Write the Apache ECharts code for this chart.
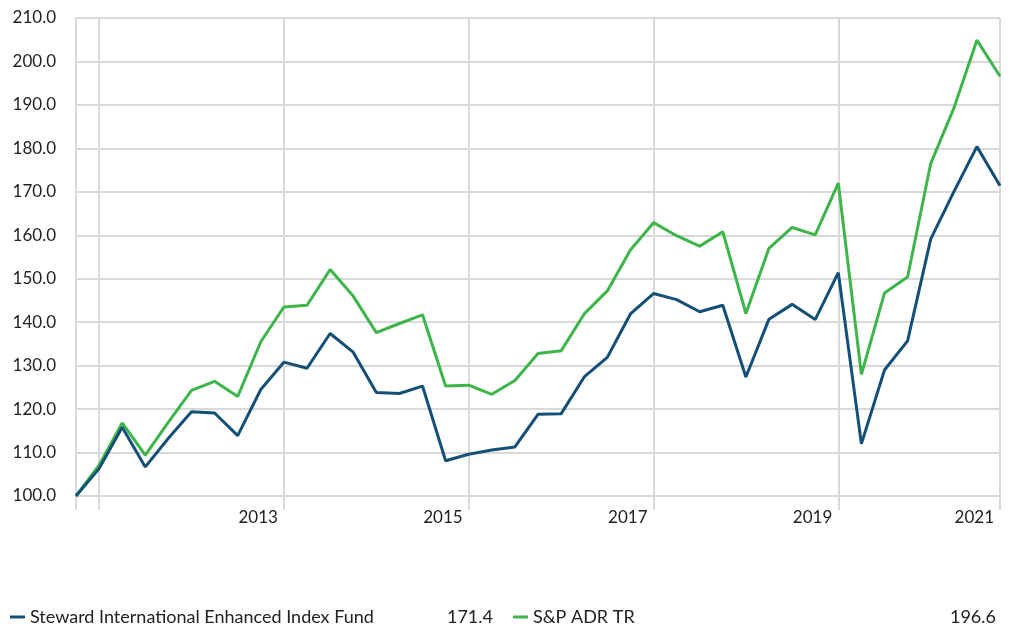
<!DOCTYPE html>
<html lang="en">
<head>
    <meta charset="UTF-8">
    <title>Steward vs S&P ADR TR</title>
    <style>
        html, body { margin: 0; padding: 0; background: #fff; }
        #main { width: 1010px; height: 626px; }
    </style>
</head>
<body>
    <div id="main"></div>
    <script src="https://cdn.jsdelivr.net/npm/echarts@6/dist/echarts.min.js"></script>
    <script>
    // quarterly points, growth of 100
    var quarters = [
        '2010 Q4', '2011 Q1', '2011 Q2', '2011 Q3', '2011 Q4', '2012 Q1', '2012 Q2', '2012 Q3', '2012 Q4',
        '2013 Q1', '2013 Q2', '2013 Q3', '2013 Q4', '2014 Q1', '2014 Q2', '2014 Q3', '2014 Q4',
        '2015 Q1', '2015 Q2', '2015 Q3', '2015 Q4', '2016 Q1', '2016 Q2', '2016 Q3', '2016 Q4',
        '2017 Q1', '2017 Q2', '2017 Q3', '2017 Q4', '2018 Q1', '2018 Q2', '2018 Q3', '2018 Q4',
        '2019 Q1', '2019 Q2', '2019 Q3', '2019 Q4', '2020 Q1', '2020 Q2', '2020 Q3', '2020 Q4'
    ];
    var steward = [
        100.0, 106.3, 115.8, 106.7, 113.3, 119.4, 119.1, 113.9, 124.5,
        130.8, 129.4, 137.4, 133.1, 123.8, 123.6, 125.3, 108.1,
        109.6, 110.6, 111.3, 118.8, 118.9, 127.4, 131.9, 141.9,
        146.6, 145.2, 142.4, 143.9, 127.4, 140.7, 144.1, 140.6,
        151.4, 112.0, 129.0, 135.7, 159.1, 170.0, 180.4, 171.4
    ];
    var adr = [
        100.0, 107.1, 116.8, 109.4, 117.0, 124.3, 126.4, 122.9, 135.5,
        143.5, 143.9, 152.1, 146.0, 137.6, 139.7, 141.7, 125.3,
        125.5, 123.4, 126.6, 132.8, 133.4, 141.9, 147.2, 156.6,
        162.9, 159.9, 157.5, 160.8, 142.0, 157.0, 161.8, 160.1,
        172.0, 128.0, 146.7, 150.4, 176.5, 189.2, 204.9, 196.6
    ];
    // year labels shown on the axis (by point index)
    var yearTicks = { 9: '2013', 17: '2015', 25: '2017', 33: '2019', 40: '2021' };
    var gridIdx = [0, 1, 9, 17, 25, 33, 40];

    var seriesNames = ['Steward International Enhanced Index Fund', 'S&P ADR TR'];
    var lastValues = ['171.4', '196.6'];
    var colors = ['#134f77', '#3db54a'];

    var gridColor = '#d9d9d9';
    var font = 'Lato, "Open Sans", sans-serif';

    var myChart = echarts.init(document.getElementById('main'));

    var option = {
        animation: false,
        color: colors,
        grid: {
            left: 76,
            right: 10,
            top: 18,
            bottom: 130
        },
        legend: {
            left: 10,
            top: 608,
            padding: 0,
            itemWidth: 15,
            itemHeight: 3,
            itemGap: 20,
            icon: 'rect',
            data: seriesNames,
            formatter: function(name) {
                var v = lastValues[seriesNames.indexOf(name)];
                return '{n|' + name + '}{v|' + v + '}';
            },
            textStyle: {
                fontFamily: font,
                fontSize: 18,
                color: '#222',
                rich: {
                    n: { width: 403, fontFamily: font, fontSize: 18, color: '#222' },
                    v: { width: 60, align: 'right', fontFamily: font, fontSize: 18, color: '#222' }
                }
            }
        },
        xAxis: {
            type: 'category',
            data: quarters,
            boundaryGap: false,
            axisLine: { show: true, lineStyle: { color: gridColor, width: 2 } },
            axisTick: {
                show: true,
                length: 14,
                interval: function(i) { return gridIdx.indexOf(i) >= 0; },
                lineStyle: { color: gridColor, width: 2 }
            },
            splitLine: {
                show: true,
                interval: function(i) { return gridIdx.indexOf(i) >= 0; },
                lineStyle: { color: gridColor, width: 2 }
            },
            axisLabel: {
                interval: function(i) { return yearTicks[i] !== undefined; },
                formatter: function(v, i) { return yearTicks[i] || ''; },
                align: 'right',
                padding: [0, 6, 0, 0],
                margin: 13,
                fontFamily: font,
                fontSize: 17,
                color: '#222'
            }
        },
        yAxis: {
            type: 'value',
            min: 100,
            max: 210,
            interval: 10,
            axisLine: { show: false },
            axisTick: { show: false },
            splitLine: { lineStyle: { color: gridColor, width: 2 } },
            axisLabel: {
                formatter: function(v) { return v.toFixed(1); },
                margin: 20,
                fontFamily: font,
                fontSize: 17,
                color: '#222'
            }
        },
        series: [{
            name: seriesNames[0],
            type: 'line',
            data: steward,
            symbol: 'none',
            lineStyle: { width: 3, color: colors[0] },
            z: 3
        }, {
            name: seriesNames[1],
            type: 'line',
            data: adr,
            symbol: 'none',
            lineStyle: { width: 3, color: colors[1] },
            z: 2
        }]
    };

    myChart.setOption(option);
    </script>
</body>
</html>
